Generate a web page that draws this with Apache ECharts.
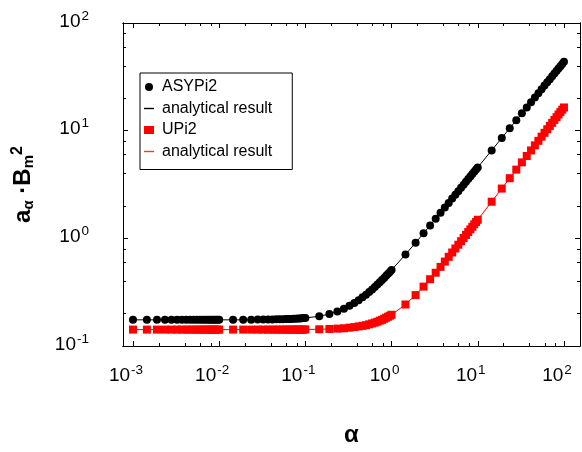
<!DOCTYPE html>
<html>
<head>
<meta charset="utf-8">
<script src="https://cdn.jsdelivr.net/npm/echarts@6/dist/echarts.min.js"></script>
<style>html,body{margin:0;padding:0;background:#fff}#chart{width:582px;height:452px}</style>
</head>
<body>
<div id="chart"></div>
<script>
// alpha values (x)
const alphaValues = [
0.001,0.00145,0.0019,0.00235,0.0028,0.00325,0.0037,0.00415,0.0046,0.00505,0.0055,0.00595,0.0064,0.00685,0.0073,0.00775,0.0082,0.00865,0.0091,0.00955,
0.01,0.0145,0.019,0.0235,0.028,0.0325,0.037,0.0415,0.046,0.0505,0.055,0.0595,0.064,0.0685,0.073,0.0775,0.082,0.0865,0.091,0.0955,
0.1,0.145,0.19,0.235,0.28,0.325,0.37,0.415,0.46,0.505,0.55,0.595,0.64,0.685,0.73,0.775,0.82,0.865,0.91,0.955,
1,1.45,1.9,2.35,2.8,3.25,3.7,4.15,4.6,5.05,5.5,5.95,6.4,6.85,7.3,7.75,8.2,8.65,9.1,9.55,
10,14.5,19,23.5,28,32.5,37,41.5,46,50.5,55,59.5,64,68.5,73,77.5,82,86.5,91,95.5,
100];
// ASYPi2 values (y)
const asyValues = [
0.175,0.175,0.175,0.175,0.175,0.175,0.175,0.175,0.175,0.175,0.175,0.175,0.175,0.175,0.175,0.175,0.175,0.175,0.175,0.175,
0.175,0.175,0.175,0.175,0.176,0.176,0.176,0.176,0.177,0.177,0.177,0.178,0.178,0.178,0.179,0.179,0.180,0.180,0.181,0.182,
0.182,0.189,0.198,0.209,0.222,0.236,0.251,0.266,0.283,0.300,0.317,0.335,0.354,0.372,0.391,0.410,0.429,0.449,0.468,0.488,
0.507,0.707,0.911,1.114,1.319,1.523,1.727,1.931,2.134,2.338,2.541,2.744,2.946,3.148,3.351,3.552,3.754,3.956,4.157,4.358,
4.56,6.56,8.55,10.54,12.51,14.48,16.44,18.41,20.36,22.31,24.26,26.21,28.15,30.09,32.03,33.97,35.90,37.83,39.76,41.69,
43.62];
// UPi2 values (y)
const upValues = [
0.142,0.142,0.142,0.142,0.142,0.142,0.142,0.142,0.142,0.142,0.142,0.142,0.142,0.142,0.142,0.142,0.142,0.142,0.142,0.142,
0.142,0.142,0.142,0.142,0.142,0.142,0.142,0.142,0.142,0.142,0.142,0.142,0.142,0.142,0.142,0.142,0.142,0.142,0.142,0.142,
0.1425,0.143,0.144,0.145,0.146,0.148,0.150,0.152,0.154,0.156,0.159,0.162,0.165,0.168,0.172,0.175,0.179,0.183,0.187,0.191,
0.195,0.243,0.297,0.356,0.417,0.479,0.543,0.608,0.673,0.739,0.805,0.872,0.940,1.007,1.075,1.143,1.212,1.280,1.349,1.418,
1.488,2.188,2.899,3.619,4.346,5.077,5.814,6.554,7.298,8.046,8.797,9.550,10.306,11.064,11.825,12.587,13.352,14.119,14.888,15.657,
16.425];
// tick positions
const xMajorTicks = [0.001,0.01,0.1,1,10,100];
const xMinorTicks = [0.002,0.004,0.006,0.008,0.02,0.04,0.06,0.08,0.2,0.4,0.6,0.8,2,4,6,8,20,40,60,80];
const yMajorTicks = [0.1,1,10,100];
const yMinorTicks = [0.2,0.4,0.6,0.8,2,4,6,8,20,40,60,80];
const seriesNames = ['ASYPi2','analytical result','UPi2','analytical result '];

const FONT = 'Liberation Sans, Arial, sans-serif';
const asyData = alphaValues.map((a,i)=>[a, asyValues[i]]);
const upData = alphaValues.map((a,i)=>[a, upValues[i]]);

function powLabel(v){
  const e = Math.round(Math.log10(v));
  return '{b|10}{s|' + e + '}';
}
const labelRich = {
  b:{fontSize:19, fontFamily:FONT, color:'#000', lineHeight:22, verticalAlign:'bottom'},
  s:{fontSize:13.5, fontFamily:FONT, color:'#000', lineHeight:13, verticalAlign:'top', padding:[0,0,0,1]}
};
const axLine = {show:true, lineStyle:{color:'#000', width:1}};

function xAx(pos, ticks, len, label){
  return {type:'log', logBase:10, gridIndex:0, position:pos, min:0.000766, max:153.5,
    axisLine:axLine, splitLine:{show:false},
    axisTick:{show:true, inside:true, length:len, customValues:ticks, lineStyle:{color:'#000',width:1}},
    axisLabel: label ? {show:true, customValues:xMajorTicks, formatter:powLabel, rich:labelRich, margin:17, padding:[0,14,0,0]} : {show:false},
    name: label ? 'α' : '', nameLocation:'middle', nameGap:77,
    nameTextStyle:{fontSize:24, fontWeight:'bold', fontFamily:FONT, color:'#000'}
  };
}
function yAx(pos, ticks, len, label){
  return {type:'log', logBase:10, gridIndex:0, position:pos, min:0.1, max:100,
    axisLine:axLine, splitLine:{show:false},
    axisTick:{show:true, inside:true, length:len, customValues:ticks, lineStyle:{color:'#000',width:1}},
    axisLabel: label ? {show:true, customValues:yMajorTicks, formatter:powLabel, rich:labelRich, margin:34, padding:[0,0,6,0]} : {show:false},
    name: label ? '{m|a}{sub|α}{m| ·B}{sub|m}{sup|2}' : '', nameLocation:'middle', nameRotate:90, nameGap:87,
    nameTextStyle:{ rich:{
      m:{fontSize:24, fontWeight:'bold', fontFamily:FONT, color:'#000', lineHeight:26, verticalAlign:'middle'},
      sub:{fontSize:15, fontWeight:'bold', fontFamily:FONT, color:'#000', lineHeight:12, verticalAlign:'bottom'},
      sup:{fontSize:16, fontWeight:'bold', fontFamily:FONT, color:'#000', lineHeight:20, verticalAlign:'top'}
    }}
  };
}
const lineIcon = 'path://M0,0 L10,0 L10,1.4 L0,1.4 Z';

const chart = echarts.init(document.getElementById('chart'), null, {renderer:'canvas'});
chart.setOption({
  animation:false,
  backgroundColor:'#fff',
  grid:{left:123, top:23, width:457, height:334, containLabel:false},
  xAxis:[
    xAx('bottom', xMajorTicks, 5, true),
    xAx('bottom', xMinorTicks, 3, false),
    xAx('top', xMajorTicks, 5, false),
    xAx('top', xMinorTicks, 3, false)
  ],
  yAxis:[
    yAx('left', yMajorTicks, 5, true),
    yAx('left', yMinorTicks, 3, false),
    yAx('right', yMajorTicks, 5, false),
    yAx('right', yMinorTicks, 3, false)
  ],
  legend:{
    orient:'vertical', left:140, top:73,
    data: [
      {name:seriesNames[0], icon:'circle', itemStyle:{color:'#000', borderWidth:0}},
      {name:seriesNames[1], icon:lineIcon, itemStyle:{color:'#000', borderWidth:0}},
      {name:seriesNames[2], icon:'rect', itemStyle:{color:'#ff0000', borderWidth:0}},
      {name:seriesNames[3], icon:lineIcon, itemStyle:{color:'#ff3030', borderColor:'#ff3030', borderWidth:0}}
    ],
    formatter: n => n.trim(),
    itemWidth:10, itemHeight:8, itemGap:3.5,
    padding:[5,20,9,4],
    borderColor:'#000', borderWidth:1, borderRadius:0,
    textStyle:{fontSize:16, fontFamily:FONT, color:'#000', lineHeight:18, padding:[0,0,0,3]},
    selectedMode:false
  },
  series:[
    {name:seriesNames[0], type:'scatter', xAxisIndex:0, yAxisIndex:0, data:asyData, symbol:'circle', symbolSize:8, itemStyle:{color:'#000', opacity:1}, z:4},
    {name:seriesNames[1], type:'line', xAxisIndex:0, yAxisIndex:0, data:asyData, symbol:'none', color:'#000', lineStyle:{color:'#000', width:1}, itemStyle:{color:'#000'}, z:3},
    {name:seriesNames[2], type:'scatter', xAxisIndex:0, yAxisIndex:0, data:upData, symbol:'rect', symbolSize:8, itemStyle:{color:'#ff0000', opacity:1}, z:4},
    {name:seriesNames[3], type:'line', xAxisIndex:0, yAxisIndex:0, data:upData, symbol:'none', color:'#ff0000', lineStyle:{color:'#ff0000', width:1}, itemStyle:{color:'#ff0000'}, z:3}
  ]
});
</script>
</body>
</html>
